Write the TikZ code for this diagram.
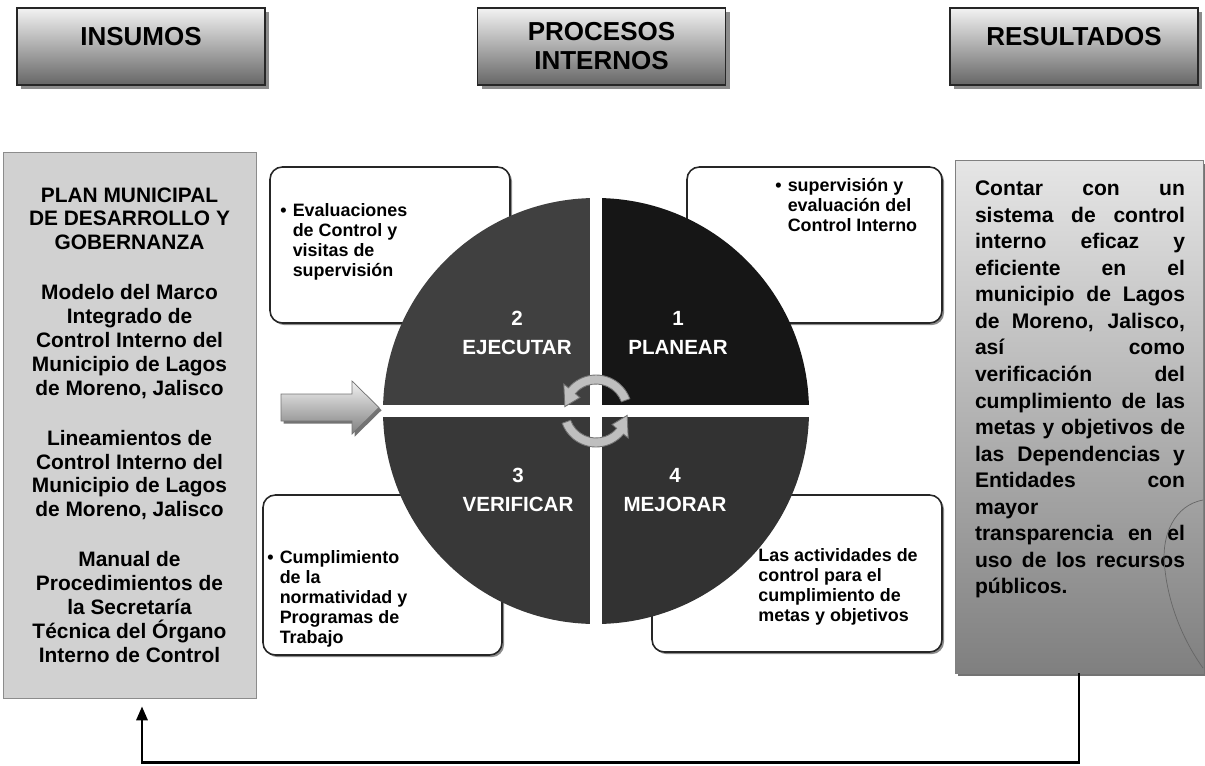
\documentclass[tikz,border=0pt]{standalone}
\usepackage{fontspec}
\setmainfont{Liberation Sans}
\usetikzlibrary{positioning,shadows,arrows.meta}
\definecolor{qplan}{RGB}{22,22,22}
\definecolor{qejec}{RGB}{64,64,64}
\definecolor{qverif}{RGB}{56,56,56}
\definecolor{qmejor}{RGB}{50,50,50}
\tolerance=10000
\hbadness=10000
\newcommand{\vineta}[1]{\textbullet\hspace{3.5pt}\begin{tabular}[t]{@{}l@{}}#1\end{tabular}}
\tikzset{
  hdrbox/.style={draw=black!85,line width=1.1pt,top color=black!5,bottom color=black!60,
        minimum width=4.96cm,minimum height=1.54cm,align=center,
        font=\fontsize{14.8}{16.5}\selectfont\bfseries,
        drop shadow={shadow xshift=2.5pt,shadow yshift=-2.5pt,fill=black!45,opacity=1}},
  hdrhigh/.style={text height=0.4cm,text depth=0.45cm},
  notebox/.style={draw=black!85,line width=0.9pt,rounded corners=7pt,fill=white,
        drop shadow={shadow xshift=1.2pt,shadow yshift=-1.2pt,fill=black!45,opacity=1}},
  notetext/.style={anchor=north west,inner sep=0pt,align=left,
        font=\fontsize{10.2}{11.4}\selectfont\bfseries},
  quadlbl/.style={text=white,align=center,font=\fontsize{11.7}{16.5}\selectfont\bfseries},
  cyclearr/.style={fill=black!25,draw=black!55,line width=0.5pt},
  inarrow/.style={draw=black!55,top color=black!5,bottom color=black!50,
        drop shadow={shadow xshift=1.5pt,shadow yshift=-1.5pt,fill=black!55,opacity=1}},
  retline/.style={line width=1.7pt,-{Triangle[length=0.28cm,width=0.22cm]}}
}

\begin{document}
\begin{tikzpicture}[x=0.02cm,y=-0.02cm]
  \useasboundingbox (0,0) rectangle (1205,765);
  % encabezados
  \node[hdrbox,hdrhigh] (insumos) at (141,46.5) {INSUMOS};
  \node[hdrbox] (procesos) at (601.5,46.5) {PROCESOS\\INTERNOS};
  \node[hdrbox,hdrhigh] (resultados) at (1074,46.5) {RESULTADOS};

  % insumos
  \node[draw=black!45,fill=black!18,minimum width=5.06cm,minimum height=10.92cm,align=center,
        font=\fontsize{11.9}{13.6}\selectfont\bfseries] (insumosbox) at (129.5,425)
        {PLAN MUNICIPAL\\DE DESARROLLO Y\\GOBERNANZA\\[14.8pt]
         Modelo del Marco\\Integrado de\\Control Interno del\\Municipio de Lagos\\de Moreno, Jalisco\\[14.8pt]
         Lineamientos de\\Control Interno del\\Municipio de Lagos\\de Moreno, Jalisco\\[14.8pt]
         Manual de\\Procedimientos de\\la Secretaría\\Técnica del Órgano\\Interno de Control};

  % resultados
  \node[draw=black!50,top color=black!10,bottom color=black!50,minimum width=4.96cm,minimum height=10.26cm,
        drop shadow={shadow xshift=1.5pt,shadow yshift=-2pt,fill=black!55,opacity=1}]
        (resultadosbox) at (1079,416.5) {};
  \node[below right=0.42cm and 0.4cm of resultadosbox.north west,text width=4.2cm,align=justify,inner sep=0pt,
        font=\fontsize{12}{15.1}\selectfont\bfseries] (resultadostxt)
        {Contar con un\linebreak sistema de control\linebreak interno eficaz y\linebreak
         eficiente en el\linebreak municipio de Lagos\linebreak de Moreno, Jalisco,\linebreak
         así como\linebreak verificación del\linebreak cumplimiento de las\linebreak
         metas y objetivos de\linebreak las Dependencias y\linebreak Entidades con\linebreak
         mayor\linebreak transparencia en el\linebreak uso de los recursos\linebreak públicos.\par};
  \draw[black!60,line width=0.4pt] (1203,500) .. controls (1175,505) and (1160,535) .. (1165,570)
        .. controls (1170,615) and (1190,650) .. (1203,668);

  % cuadros de actividades
  \node[notebox,minimum width=4.8cm,minimum height=3.12cm] (evalbox) at (390,245) {};
  \node[notebox,minimum width=5.1cm,minimum height=3.12cm] (supervbox) at (814.5,245) {};
  \node[notebox,minimum width=4.78cm,minimum height=3.2cm] (cumplbox) at (382.5,575) {};
  \node[notebox,minimum width=5.8cm,minimum height=3.14cm] (activbox) at (797,573.5) {};
  \node[notetext] (evaltxt) at (280,202) {\vineta{Evaluaciones\\de Control y\\visitas de\\supervisión}};
  \node[notetext] (supervtxt) at (775,177) {\vineta{supervisión y\\evaluación del\\Control Interno}};
  \node[notetext] (cumpltxt) at (267,549) {\vineta{Cumplimiento\\de la\\normatividad y\\Programas de\\Trabajo}};
  \node[notetext] (activtxt) at (758,547) {\begin{tabular}[t]{@{}l@{}}Las actividades de\\control para el\\cumplimiento de\\metas y objetivos\end{tabular}};

  % ciclo
  \begin{scope}[shift={(596,411)},yscale=-1]
    \fill[qplan] (0,0) -- (0:213) arc[start angle=0,end angle=90,radius=213] -- cycle;
    \fill[qejec] (0,0) -- (90:213) arc[start angle=90,end angle=180,radius=213] -- cycle;
    \fill[qverif] (0,0) -- (180:213) arc[start angle=180,end angle=270,radius=213] -- cycle;
    \fill[qmejor] (0,0) -- (270:213) arc[start angle=270,end angle=360,radius=213] -- cycle;
    \fill[white] (-214,-6) rectangle (214,6);
    \fill[white] (-6,-214) rectangle (6,214);
    \filldraw[cyclearr] (20:27) arc[start angle=20,end angle=140,radius=27] -- (140:21) -- (172:31.5)
          -- (140:42) -- (140:36) arc[start angle=140,end angle=20,radius=36] -- cycle;
    \filldraw[cyclearr] (200:27) arc[start angle=200,end angle=320,radius=27] -- (320:21) -- (352:31.5)
          -- (320:42) -- (320:36) arc[start angle=320,end angle=200,radius=36] -- cycle;
  \end{scope}
  \node[quadlbl] (ejecutar) at (517,333) {2\\EJECUTAR};
  \node[quadlbl] (planear) at (678,333) {1\\PLANEAR};
  \node[quadlbl] (verificar) at (518,490) {3\\VERIFICAR};
  \node[quadlbl] (mejorar) at (675,490) {4\\MEJORAR};

  % entrada
  \path[inarrow] (281,394) -- (352,394) -- (352,381) -- (379,407.5) -- (352,434) -- (352,421)
        -- (281,421) -- cycle;

  % retroalimentacion
  \coordinate (retorno) at (142,762);
  \draw[retline,shorten >=0.16cm] (resultadosbox.south) |- (retorno) -- (retorno |- insumosbox.south);
\end{tikzpicture}
\end{document}
